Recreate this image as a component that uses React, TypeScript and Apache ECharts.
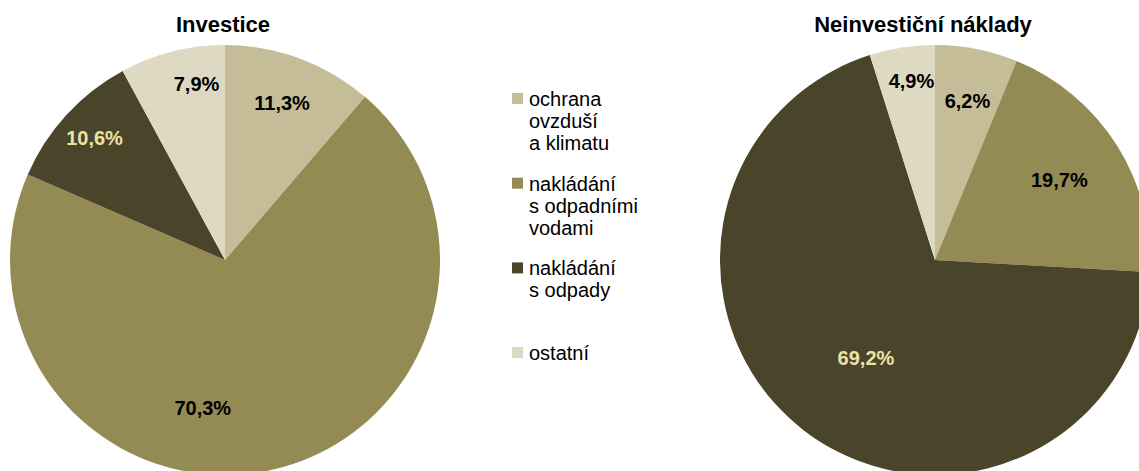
import React, { useEffect, useRef } from "react";
import * as echarts from "echarts";

const categories = [
  "ochrana ovzduší a klimatu",
  "nakládání s odpadními vodami",
  "nakládání s odpady",
  "ostatní",
];
const legendLines = [
  ["ochrana", "ovzduší", "a klimatu"],
  ["nakládání", "s odpadními", "vodami"],
  ["nakládání", "s odpady"],
  ["ostatní"],
];
const investice = [11.3, 70.3, 10.6, 7.9];
const neinvesticni = [6.2, 19.7, 69.2, 4.9];
const titles = ["Investice", "Neinvestiční náklady"];

const colors = ["#C4BD97", "#948A54", "#4A452A", "#DDD9C3"];
const labelColors = ["#000000", "#000000", "#EBE2A6", "#000000"];
const FONT = "'Liberation Sans', Arial, sans-serif";

// small label nudges (px) to mimic Excel's best-fit placement
const nudgeLeft = [[-3, 5], [-61, -21], [-3, -5], [14, -8]];
const nudgeRight = [[-1, 11], [-22, 12], [37, -39], [3, -8]];

const fmt = (v: number) => v.toFixed(1).replace(".", ",") + "%";

export default function App() {
  const ref = useRef<HTMLDivElement>(null);
  useEffect(() => {
    if (!ref.current) return;
    const chart = echarts.init(ref.current, undefined, { renderer: "svg" });

    const pies = [
      { values: investice, center: [225, 260], titleX: 218, nudge: nudgeLeft },
      { values: neinvesticni, center: [935, 260], titleX: 918, nudge: nudgeRight },
    ];

    const series: any[] = [];
    pies.forEach((p) => {
      series.push({
        type: "pie",
        center: p.center,
        radius: 215,
        startAngle: 90,
        clockwise: true,
        silent: true,
        avoidLabelOverlap: false,
        label: { show: false },
        labelLine: { show: false },
        itemStyle: { borderWidth: 0 },
        data: categories.map((c, i) => ({
          name: c,
          value: p.values[i],
          itemStyle: { color: colors[i] },
        })),
      });
      series.push({
        type: "pie",
        center: p.center,
        radius: [125, 215],
        startAngle: 90,
        clockwise: true,
        silent: true,
        z: 5,
        avoidLabelOverlap: false,
        labelLine: { show: false },
        itemStyle: { color: "rgba(0,0,0,0)", borderWidth: 0 },
        label: {
          show: true,
          position: "inside",
          fontFamily: FONT,
          fontWeight: "bold",
          fontSize: 20,
          formatter: (pp: any) => fmt(pp.value),
        },
        data: categories.map((c, i) => ({
          name: c,
          value: p.values[i],
          label: { color: labelColors[i], offset: p.nudge[i] },
        })),
      });
    });

    const graphic: any[] = [];
    legendLines.forEach((lines, i) => {
      const top = 93 + i * 84.7;
      graphic.push({
        type: "rect",
        shape: { x: 512, y: top, width: 11, height: 11 },
        style: { fill: colors[i] },
        silent: true,
      });
      graphic.push({
        type: "text",
        x: 529,
        y: top - 5,
        style: {
          text: lines.join("\n"),
          font: `20px ${FONT}`,
          fill: "#000",
          lineHeight: 22,
          verticalAlign: "top",
          align: "left",
        },
        silent: true,
      });
    });

    chart.setOption({
      animation: false,
      backgroundColor: "#ffffff",
      title: pies.map((p, i) => ({
        text: titles[i],
        left: p.titleX,
        top: 8,
        textAlign: "center",
        textStyle: {
          fontFamily: FONT,
          fontWeight: "bold",
          fontSize: 22,
          color: "#000",
        },
      })),
      graphic,
      series,
    });
    return () => chart.dispose();
  }, []);
  return (
    <div
      ref={ref}
      style={{ position: "fixed", left: 0, top: 0, width: 1139, height: 471 }}
    />
  );
}
